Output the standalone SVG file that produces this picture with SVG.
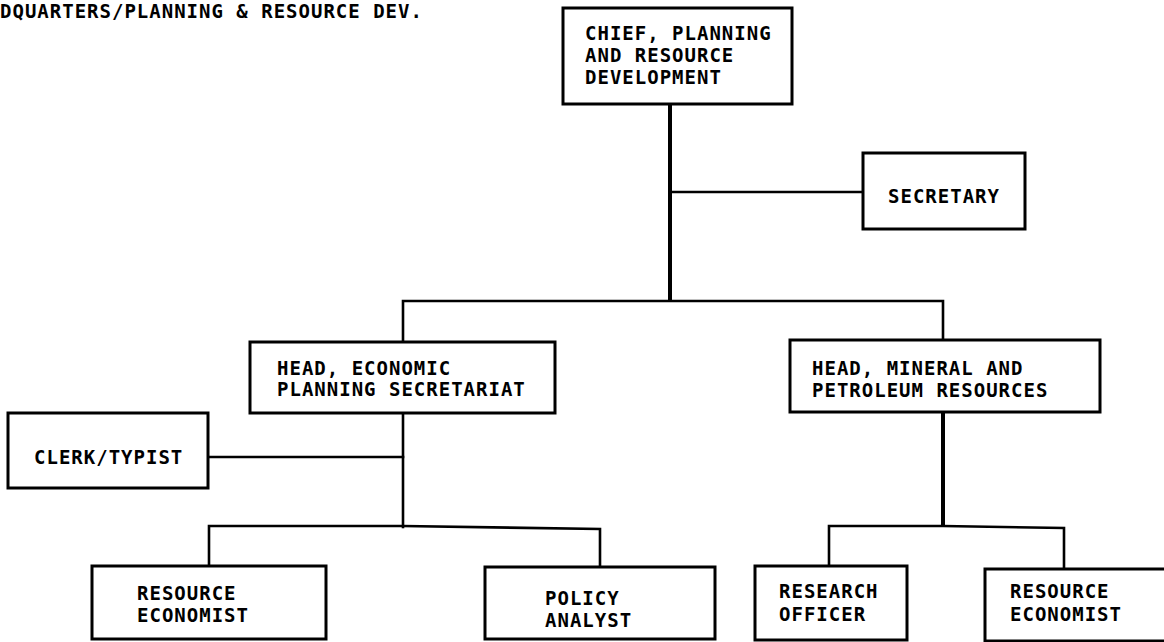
<svg xmlns="http://www.w3.org/2000/svg" width="1164" height="642" viewBox="0 0 1164 642">
  <style>
    .box { fill: #ffffff; stroke: #000000; stroke-width: 3; }
    .lbl { font-family: "DejaVu Sans Mono", "Liberation Mono", monospace; font-weight: bold; font-size: 19px; letter-spacing: 1px; fill: #000000; }
    .wire { fill: none; stroke: #000000; stroke-width: 2.6; stroke-linecap: square; }
    .trunk { fill: none; stroke: #000000; stroke-width: 4; }
  </style>
  <rect x="0" y="0" width="1164" height="642" fill="#ffffff"/>

  <text class="lbl" x="0" y="18">DQUARTERS/PLANNING &amp; RESOURCE DEV.</text>

  <!-- connectors -->
  <g id="connectors">
    <line class="trunk" x1="670" y1="104" x2="670" y2="301"/>
    <line class="wire" x1="670" y1="192" x2="863" y2="192"/>
    <polyline class="wire" points="403,342 403,301 943,301 943,340"/>
    <line class="wire" x1="403" y1="413" x2="403" y2="527"/>
    <line class="wire" x1="208" y1="457" x2="403" y2="457"/>
    <polyline class="wire" points="209,566 209,526 403,526 600,529 600,567"/>
    <line class="trunk" x1="943" y1="412" x2="943" y2="526"/>
    <polyline class="wire" points="829,566 829,526 943,526 1064,528 1064,569"/>
  </g>

  <g id="chief">
    <rect class="box" x="563" y="8" width="229" height="96"/>
    <text class="lbl" x="585" y="40">CHIEF, PLANNING</text>
    <text class="lbl" x="585" y="62">AND RESOURCE</text>
    <text class="lbl" x="585" y="84">DEVELOPMENT</text>
  </g>

  <g id="secretary">
    <rect class="box" x="863" y="153" width="162" height="76"/>
    <text class="lbl" x="888" y="203">SECRETARY</text>
  </g>

  <g id="head-economic">
    <rect class="box" x="250" y="342" width="305" height="71"/>
    <text class="lbl" x="277" y="375">HEAD, ECONOMIC</text>
    <text class="lbl" x="277" y="396">PLANNING SECRETARIAT</text>
  </g>

  <g id="head-mineral">
    <rect class="box" x="790" y="340" width="310" height="72"/>
    <text class="lbl" x="812" y="375">HEAD, MINERAL AND</text>
    <text class="lbl" x="812" y="397">PETROLEUM RESOURCES</text>
  </g>

  <g id="clerk">
    <rect class="box" x="8" y="413" width="200" height="75"/>
    <text class="lbl" x="34" y="464">CLERK/TYPIST</text>
  </g>

  <g id="resource-economist-1">
    <rect class="box" x="92" y="566" width="234" height="73"/>
    <text class="lbl" x="137" y="600">RESOURCE</text>
    <text class="lbl" x="137" y="622">ECONOMIST</text>
  </g>

  <g id="policy-analyst">
    <rect class="box" x="485" y="567" width="230" height="72"/>
    <text class="lbl" x="545" y="605">POLICY</text>
    <text class="lbl" x="545" y="627">ANALYST</text>
  </g>

  <g id="research-officer">
    <rect class="box" x="755" y="566" width="152" height="74"/>
    <text class="lbl" x="779" y="598">RESEARCH</text>
    <text class="lbl" x="779" y="621">OFFICER</text>
  </g>

  <g id="resource-economist-2">
    <rect class="box" x="985" y="569" width="190" height="72"/>
    <text class="lbl" x="1010" y="598">RESOURCE</text>
    <text class="lbl" x="1010" y="621">ECONOMIST</text>
  </g>
</svg>
